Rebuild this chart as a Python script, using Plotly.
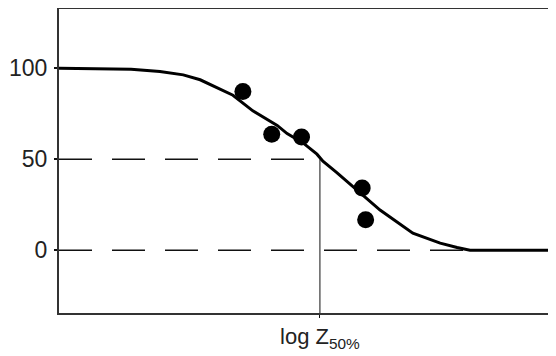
import plotly.graph_objects as go

# Fitted dose-response curve (x = log Z, arbitrary units; y = response %)
curve_x = [0.0, 1.45, 2.03, 2.50, 2.84, 3.24, 3.50, 3.90, 4.39, 4.59, 4.91, 5.19, 5.31, 5.59, 5.92, 6.46, 7.12, 7.67, 8.01, 8.27, 10.0]
curve_y = [100, 99.5, 98.2, 96.4, 93.7, 88.7, 85.2, 76.6, 68.6, 64.1, 59.0, 52.8, 48.9, 42.7, 34.8, 22.1, 9.4, 3.9, 1.5, 0.0, 0.0]

# Observed data points
points_x = [3.70, 4.28, 4.88, 6.10, 6.17]
points_y = [87.3, 63.7, 62.2, 34.2, 16.7]

# Reference levels and the 50% position
ref_levels = [50, 0]
log_z50 = 5.25
y_ticks = [0, 50, 100]
y_range = [-34.5, 132.6]
x_range = [0, 10]

fig = go.Figure()

# dashed reference lines
fig.add_trace(go.Scatter(x=[x_range[0], log_z50], y=[ref_levels[0], ref_levels[0]], mode="lines",
                         line=dict(color="#111", width=1.5, dash="33px,20px"), hoverinfo="skip"))
fig.add_trace(go.Scatter(x=[x_range[0], x_range[1]], y=[ref_levels[1], ref_levels[1]], mode="lines",
                         line=dict(color="#111", width=1.5, dash="33px,20px"), hoverinfo="skip"))
# vertical line at log Z50
fig.add_trace(go.Scatter(x=[log_z50, log_z50], y=[y_range[0], ref_levels[0]], mode="lines",
                         line=dict(color="#111", width=1), hoverinfo="skip"))
# curve
fig.add_trace(go.Scatter(x=curve_x, y=curve_y, mode="lines",
                         line=dict(color="black", width=3)))
# points
fig.add_trace(go.Scatter(x=points_x, y=points_y, mode="markers",
                         marker=dict(color="black", size=17)))

# the page body has an 8px margin, so the figure is made 8px smaller
fig.update_layout(
    width=548, height=348,
    margin=dict(l=51, r=0, t=1, b=43),
    paper_bgcolor="white", plot_bgcolor="white",
    showlegend=False,
    font=dict(family="Liberation Sans, Arial, sans-serif", size=23, color="#222"),
)
fig.update_xaxes(
    range=x_range, showgrid=False, zeroline=False,
    showline=True, mirror=True, linecolor="#333", linewidth=2,
    tickmode="array", tickvals=[log_z50],
    ticktext=["log Z<sub>50%</sub>"],
    ticks="outside", ticklen=3, tickcolor="#111", tickwidth=1,
    tickfont=dict(size=22, color="#222"),
    automargin=False,
)
fig.update_yaxes(
    range=y_range, showgrid=False, zeroline=False,
    showline=True, mirror=False, linecolor="#333", linewidth=2,
    tickmode="array", tickvals=y_ticks, ticktext=[str(v) for v in y_ticks],
    ticks="outside", ticklen=3, tickcolor="#111", tickwidth=2,
    tickfont=dict(size=23, color="#222"),
    ticklabelstandoff=2,
    automargin=False,
)

fig.write_html("out.html")
